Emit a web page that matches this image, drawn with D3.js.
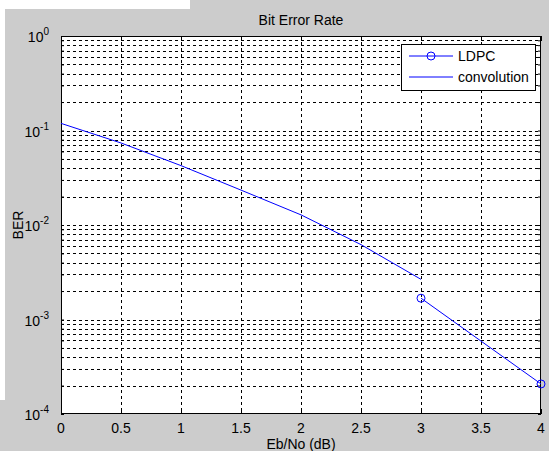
<!DOCTYPE html>
<html>
<head>
<meta charset="utf-8">
<script src="https://cdn.jsdelivr.net/npm/d3@7"></script>
<style>
  body { margin: 0; background: #cccccc; }
  text { font-family: "Liberation Sans", Arial, sans-serif; }
</style>
</head>
<body>
<div id="chart"></div>
<script>
// data
let conv_x = [0, 0.5, 1, 1.5, 2, 2.5, 3];
let conv_ber = [0.119, 0.0738, 0.0425, 0.0234, 0.0128, 0.0062, 0.00266];
let ldpc_x = [3, 4];
let ldpc_ber = [0.00168, 0.000208];
let x_ticks = [0, 0.5, 1, 1.5, 2, 2.5, 3, 3.5, 4];
let y_decades = [0, -1, -2, -3, -4];
let legend_labels = ['LDPC', 'convolution'];

let W = 549, H = 451;
let margin = { top: 36, right: 8, bottom: 37, left: 61 };
let width = W - margin.left - margin.right;
let height = H - margin.top - margin.bottom;

let svg_root = d3.select('#chart')
  .append('svg')
  .attr('width', W)
  .attr('height', H);

svg_root.append('rect').attr('width', W).attr('height', H).attr('fill', '#cccccc');
// thin white border strips like the screenshot
svg_root.append('rect').attr('x', 0).attr('y', 0).attr('width', 190).attr('height', 9).attr('fill', '#ffffff');
svg_root.append('rect').attr('x', 0).attr('y', 0).attr('width', 5).attr('height', 400).attr('fill', '#ffffff');

let svg = svg_root.append('g')
  .attr('transform', `translate(${margin.left}, ${margin.top})`);

let x = d3.scaleLinear().domain([0, 4]).range([0, width]);
let y = d3.scaleLog().domain([1e-4, 1]).range([height, 0]);

svg.append('rect')
  .attr('width', width)
  .attr('height', height)
  .attr('fill', '#ffffff');

// minor + major log values
let y_grid = [];
for (let e = -4; e < 0; e++) {
  for (let m = 1; m <= 9; m++) y_grid.push(m * Math.pow(10, e));
}

// grid
svg.append('g')
  .selectAll('line.gy')
  .data(y_grid.filter((v) => v > 1e-4))
  .join('line')
  .attr('x1', 0).attr('x2', width)
  .attr('y1', (d) => Math.round(y(d)) + 0.5)
  .attr('y2', (d) => Math.round(y(d)) + 0.5)
  .attr('stroke', '#000')
  .attr('stroke-width', 1)
  .attr('stroke-dasharray', '3,3');

svg.append('g')
  .selectAll('line.gx')
  .data(x_ticks.slice(1, -1))
  .join('line')
  .attr('x1', (d) => Math.round(x(d)) + 0.5)
  .attr('x2', (d) => Math.round(x(d)) + 0.5)
  .attr('y1', 0).attr('y2', height)
  .attr('stroke', '#000')
  .attr('stroke-width', 1)
  .attr('stroke-dasharray', '3,3');

// axes box ticks (inside)
svg.append('g')
  .attr('transform', `translate(0, ${height})`)
  .call(d3.axisBottom(x).tickValues(x_ticks).tickSizeInner(-5).tickSizeOuter(0).tickFormat(''))
  .call((g) => g.select('.domain').remove());
svg.append('g')
  .call(d3.axisTop(x).tickValues(x_ticks).tickSizeInner(-5).tickSizeOuter(0).tickFormat(''))
  .call((g) => g.select('.domain').remove());
svg.append('g')
  .call(d3.axisLeft(y).tickValues(y_grid).tickSizeInner(-3).tickSizeOuter(0).tickFormat(''))
  .call((g) => g.select('.domain').remove());
svg.append('g')
  .attr('transform', `translate(${width}, 0)`)
  .call(d3.axisRight(y).tickValues(y_grid).tickSizeInner(-3).tickSizeOuter(0).tickFormat(''))
  .call((g) => g.select('.domain').remove());

svg.append('rect')
  .attr('x', 0.5).attr('y', 0.5)
  .attr('width', width - 1).attr('height', height - 1)
  .attr('fill', 'none')
  .attr('stroke', '#000');

// x tick labels
svg.append('g')
  .selectAll('text')
  .data(x_ticks)
  .join('text')
  .attr('x', (d) => x(d))
  .attr('y', height + 19)
  .attr('text-anchor', 'middle')
  .style('font-size', '14px')
  .text((d) => d);

// y tick labels 10^e
let ylab = svg.append('g')
  .selectAll('text')
  .data(y_decades)
  .join('text')
  .attr('x', -12)
  .attr('y', (d) => y(Math.pow(10, d)) + 6)
  .attr('text-anchor', 'end')
  .style('font-size', '14px');
ylab.append('tspan').text('10');
ylab.append('tspan')
  .attr('dy', -7)
  .style('font-size', '10px')
  .text((d) => d);

// lines
let line = d3.line()
  .x((d) => x(d[0]))
  .y((d) => y(d[1]));

svg.append('path')
  .datum(d3.zip(conv_x, conv_ber))
  .attr('fill', 'none')
  .attr('stroke', '#0000ff')
  .attr('stroke-width', 1)
  .attr('d', line);

svg.append('path')
  .datum(d3.zip(ldpc_x, ldpc_ber))
  .attr('fill', 'none')
  .attr('stroke', '#0000ff')
  .attr('stroke-width', 1)
  .attr('d', line);

svg.append('g')
  .selectAll('circle')
  .data(d3.zip(ldpc_x, ldpc_ber))
  .join('circle')
  .attr('cx', (d) => x(d[0]))
  .attr('cy', (d) => y(d[1]))
  .attr('r', 4)
  .attr('fill', 'none')
  .attr('stroke', '#0000ff')
  .attr('stroke-width', 1);

// titles
svg.append('text')
  .attr('x', width / 2)
  .attr('y', -11)
  .attr('text-anchor', 'middle')
  .style('font-size', '14px')
  .text('Bit Error Rate');

svg.append('text')
  .attr('x', width / 2)
  .attr('y', height + 35)
  .attr('text-anchor', 'middle')
  .style('font-size', '14px')
  .text('Eb/No (dB)');

svg.append('text')
  .attr('transform', `translate(-38, ${height / 2}) rotate(-90)`)
  .attr('text-anchor', 'middle')
  .style('font-size', '14px')
  .text('BER');

// Handmade legend
let lg = svg_root.append('g').attr('transform', 'translate(401, 44)');
lg.append('rect')
  .attr('x', 0.5).attr('y', 0.5)
  .attr('width', 134).attr('height', 46)
  .attr('fill', '#ffffff')
  .attr('stroke', '#000');

for (let i = 0; i < legend_labels.length; i++) {
  let curr_y = 12 + 21 * i;
  lg.append('line')
    .attr('x1', 8).attr('x2', 52)
    .attr('y1', curr_y).attr('y2', curr_y)
    .attr('stroke', '#0000ff');
  if (i === 0) {
    lg.append('circle')
      .attr('cx', 30).attr('cy', curr_y).attr('r', 4)
      .attr('fill', 'none')
      .attr('stroke', '#0000ff');
  }
  lg.append('text')
    .attr('x', 57)
    .attr('y', curr_y + 5)
    .style('font-size', '14px')
    .text(legend_labels[i]);
}
</script>
</body>
</html>
